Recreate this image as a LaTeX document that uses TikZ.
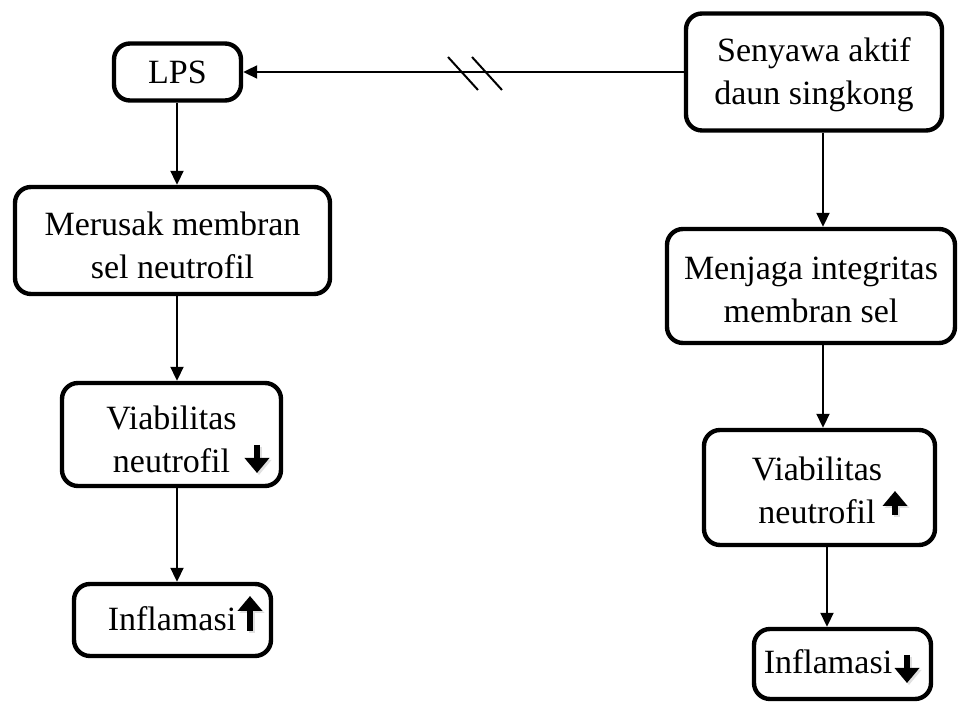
\documentclass[tikz,border=0pt]{standalone}
\usepackage{fontspec}
\setmainfont{Liberation Serif}
\usetikzlibrary{arrows.meta}
\begin{document}
\begin{tikzpicture}[x=0.5pt,y=-0.5pt,
 box/.style={draw, line width=2.2pt, rounded corners=8pt, inner sep=0pt, align=center, font=\fontsize{17}{21.5}\selectfont},
 txt/.style={inner sep=0pt, align=center, font=\fontsize{17}{21.5}\selectfont},
 conn/.style={line width=1pt, -{Triangle[width=6.5pt,length=7pt]}},
 updown/.style={line width=2.6pt, -{Triangle[width=12pt,length=7.5pt]}},
 shadowarrow/.style={updown, draw=black!12, fill=black!12},
 slash/.style={line width=1pt}]
\useasboundingbox[fill=white] (0,0) rectangle (960,704);
% boxes
\node[box, minimum width=63.5pt, minimum height=28.5pt] (lps) at (177.5,72) {LPS};
\node[box, minimum width=128pt, minimum height=58.5pt] (sen) at (814,72) {};
\node[txt] (sent) at (814,75) {Senyawa aktif\\daun singkong};
\node[box, minimum width=157.5pt, minimum height=53.5pt] (mer) at (172.5,240.5) {};
\node[txt] (mert) at (172.5,245) {Merusak membran\\sel neutrofil};
\node[box, minimum width=144pt, minimum height=57pt] (men) at (811,286) {};
\node[txt] (ment) at (811,290) {Menjaga integritas\\membran sel};
\node[box, minimum width=109.5pt, minimum height=51.5pt] (vl) at (171.5,434.5) {};
\node[txt] (vlt) at (171.5,439) {Viabilitas\\neutrofil\hspace{12pt}};
\node[box, minimum width=115.5pt, minimum height=57.5pt] (vr) at (819.5,487.5) {};
\node[txt] (vrt) at (817,490) {Viabilitas\\neutrofil\hspace{14pt}};
\node[box, minimum width=98.5pt, minimum height=36pt] (il) at (172.5,620) {};
\node[txt] (ilt) at (172,619) {Inflamasi};
\node[box, minimum width=88.5pt, minimum height=35pt] (ir) at (842.5,664) {};
\node[txt] (irt) at (828,662) {Inflamasi};
% connector x positions
\coordinate (lx) at (177,0);
\coordinate (rx) at (823,0);
\coordinate (rx2) at (827,0);
% connectors
\draw[conn] (sen.west) -- (lps.east);
\draw[slash] (448,57) -- (478,90);
\draw[slash] (472,57) -- (502,90);
\draw[conn] (lps.south -| lx) -- (mer.north -| lx);
\draw[conn] (mer.south -| lx) -- (vl.north -| lx);
\draw[conn] (vl.south -| lx) -- (il.north -| lx);
\draw[conn] (sen.south -| rx) -- (men.north -| rx);
\draw[conn] (men.south -| rx) -- (vr.north -| rx);
\draw[conn] (vr.south -| rx2) -- (ir.north -| rx2);
% up/down indicator arrows
\draw[shadowarrow] (259,447) -- (259,475);
\draw[updown] (257,445) -- (257,473);
\draw[shadowarrow] (897,517) -- (897,493);
\draw[updown] (895,515) -- (895,491);
\draw[shadowarrow] (252,633) -- (252,598);
\draw[updown] (250,631) -- (250,596);
\draw[shadowarrow] (909,657) -- (909,685);
\draw[updown] (907,655) -- (907,683);
\end{tikzpicture}
\end{document}
